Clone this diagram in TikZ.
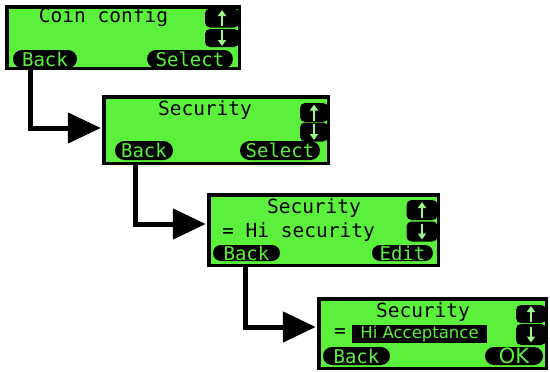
\documentclass[tikz,border=0pt]{standalone}
\usepackage{fontspec}
\setmonofont{DejaVu Sans Mono}
\newfontfamily\lcdsans{DejaVu Sans}
\usetikzlibrary{arrows.meta,shapes.misc}
\definecolor{lcd}{RGB}{90,240,60}
\tikzset{
  screen/.style={draw=black, fill=lcd, line width=3.5pt, inner sep=0pt, outer sep=0pt, rectangle},
  titletext/.style={font=\ttfamily\fontsize{19.5}{19.5}\selectfont, inner sep=0pt, text=black},
  btn/.style={rounded rectangle, fill=black, text=lcd, inner sep=0pt, outer sep=0pt, font=\ttfamily\fontsize{19}{19}\selectfont},
  navbtn/.style={fill=black, rounded corners=5pt, inner sep=0pt, outer sep=0pt},
  glyph/.style={draw=lcd!60!white, line width=2.2pt, -{Triangle[length=6pt,width=8pt]}},
  conn/.style={line width=5pt, -{Triangle[length=33pt,width=30pt]}},
}
\newcommand\upglyph[1]{\draw[glyph] ([yshift=-8pt]#1.center) -- ([yshift=8pt]#1.center);}
\newcommand\downglyph[1]{\draw[glyph] ([yshift=8pt]#1.center) -- ([yshift=-8pt]#1.center);}
\begin{document}
\begin{tikzpicture}[x=1pt,y=-1pt]
\useasboundingbox (0,0) rectangle (550,372);

% ---------- connector start points ----------
\coordinate (a1) at (30,68);
\coordinate (a2) at (135,163);
\coordinate (a3) at (245,265);

% ---------- screen 1 ----------
\node[screen, minimum width=232.5pt, minimum height=61.5pt] (s1) at (123,37.5) {};
\node[titletext] (t1) at (103.5,17) {Coin config};
\node[navbtn, minimum width=34pt, minimum height=19pt] (u1) at (222,18) {};
\node[navbtn, minimum width=34pt, minimum height=18pt] (d1) at (222,38) {};
\upglyph{u1}\downglyph{d1}
\node[btn, minimum width=64pt, minimum height=18pt] (bk1) at (45,59) {Back};
\node[btn, minimum width=86pt, minimum height=18pt] (sel1) at (190,59) {Select};

% ---------- screen 2 ----------
\node[screen, minimum width=224.5pt, minimum height=66.5pt] (s2) at (216,130) {};
\node[titletext] (t2) at (205,110) {Security};
\node[navbtn, minimum width=28pt, minimum height=19pt] (u2) at (314,112.5) {};
\node[navbtn, minimum width=28pt, minimum height=19pt] (d2) at (314,132) {};
\upglyph{u2}\downglyph{d2}
\node[btn, minimum width=58pt, minimum height=19pt] (bk2) at (144,150.5) {Back};
\node[btn, minimum width=80pt, minimum height=19pt] (sel2) at (280,150.5) {Select};

% ---------- screen 3 ----------
\node[screen, minimum width=229.5pt, minimum height=70.5pt] (s3) at (323.5,230) {};
\node[titletext] (t3) at (314,208) {Security};
\node[titletext, anchor=west] (v3) at (222,232) {= Hi security};
\node[navbtn, minimum width=31pt, minimum height=20pt] (u3) at (422,210) {};
\node[navbtn, minimum width=31pt, minimum height=20pt] (d3) at (422,231.5) {};
\upglyph{u3}\downglyph{d3}
\node[btn, minimum width=67pt, minimum height=16pt] (bk3) at (246.5,253) {Back};
\node[btn, minimum width=61pt, minimum height=16pt] (ed3) at (402.5,253) {Edit};

% ---------- screen 4 ----------
\node[screen, minimum width=227.5pt, minimum height=69.5pt] (s4) at (432.5,333.5) {};
\node[titletext] (t4) at (423,312) {Security};
\node[titletext] (eq4) at (340,333) {=};
\node[fill=black, text=lcd, inner sep=0pt, minimum width=135pt, minimum height=18pt, font=\lcdsans\fontsize{16.5}{16.5}\selectfont] (v4) at (419.5,334) {Hi Acceptance};
\node[navbtn, minimum width=30pt, minimum height=18pt] (u4) at (531,314) {};
\node[navbtn, minimum width=30pt, minimum height=21pt] (d4) at (531,334.5) {};
\upglyph{u4}\downglyph{d4}
\node[btn, minimum width=67pt, minimum height=18pt] (bk4) at (356.5,356) {Back};
\node[btn, minimum width=58pt, minimum height=18pt, font=\lcdsans\fontsize{21}{21}\selectfont] (ok4) at (514,356) {OK};

% ---------- arrows ----------
\draw[conn] (a1) |- ([xshift=-3pt,yshift=2pt]s2.west);
\draw[conn] (a2) |- ([xshift=-3pt,yshift=6pt]s3.west);
\draw[conn] (a3) |- ([xshift=-3pt,yshift=6.5pt]s4.west);
\end{tikzpicture}
\end{document}
